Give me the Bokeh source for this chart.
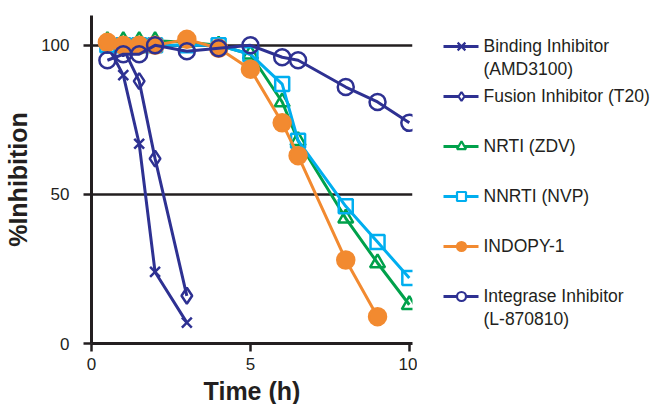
from bokeh.plotting import figure
from bokeh.models import Range1d, FixedTicker
from bokeh.layouts import row, column
from bokeh.embed import file_html
from bokeh.resources import INLINE
from bokeh.core.properties import value

# ---------------- data ----------------
time_early = [0.5, 1, 1.5, 2, 3]
binding = [100, 90, 67, 24, 7]
fusion = [100, 99, 88, 62, 16]

time_full = [0.5, 1, 1.5, 2, 3, 4, 5, 6, 6.5, 8, 9, 10]
nrti = [101.5, 101.5, 101.5, 101.5, 101, 100, 97, 81, 68, 42, 27, 13]
nnrti = [100, 100, 100, 100, 100, 100, 97, 87, 68, 46, 34, 22]
integrase = [95, 97, 97, 100, 98, 99, 100, 96, 95, 86, 81, 74]

time_indopy = [0.5, 1, 1.5, 2, 3, 4, 5, 6, 6.5, 8, 9]
indopy = [101, 100, 100, 100, 102, 99, 92, 74, 63, 28, 9]

x_ticks = [0, 5, 10]
y_ticks = [0, 50, 100]

x_title = "Time (h)"
y_title = "%Inhibition"
labels = ["Binding Inhibitor\n(AMD3100)", "Fusion Inhibitor (T20)", "NRTI (ZDV)",
          "NNRTI (NVP)", "INDOPY-1", "Integrase Inhibitor\n(L-870810)"]

NAVY = "#2E3192"
GREEN = "#00A14B"
CYAN = "#00AEEF"
ORANGE = "#F28A30"
INK = "#231F20"
FONT = "Liberation Sans"

series = [
    dict(x=time_early, y=binding, color=NAVY, marker="x", size=14, fill=None),
    dict(x=time_early, y=fusion, color=NAVY, marker="diamond", size=16, fill=None),
    dict(x=time_full, y=nrti, color=GREEN, marker="triangle", size=15, fill=None),
    dict(x=time_full, y=nnrti, color=CYAN, marker="square", size=14, fill=None),
    dict(x=time_indopy, y=indopy, color=ORANGE, marker="circle", size=17, fill=ORANGE),
    dict(x=time_full, y=integrase, color=NAVY, marker="circle", size=16, fill=None),
]

# ---------------- main plot ----------------
X_MAX, Y_MAX = 10.1, 110
FW, FH = 321, 328
B_LEFT, B_TOP, B_BOT, B_RIGHT = 91, 15, 33, 5
TOTAL_W, TOTAL_H = 653, 404
xr = Range1d(0, X_MAX)
yr = Range1d(0, Y_MAX)
p = figure(frame_width=FW, frame_height=FH, x_range=xr, y_range=yr,
           output_backend="svg", toolbar_location=None,
           min_border_left=B_LEFT, min_border_top=B_TOP, min_border_bottom=B_BOT,
           min_border_right=B_RIGHT)
p.outline_line_color = None
p.background_fill_color = None
p.border_fill_color = None

p.xgrid.visible = False
p.ygrid.ticker = FixedTicker(ticks=[50, 100])
p.ygrid.grid_line_color = INK
p.ygrid.grid_line_width = 2.5

p.xaxis.ticker = FixedTicker(ticks=x_ticks)
p.yaxis.ticker = FixedTicker(ticks=y_ticks)
for ax in (p.xaxis, p.yaxis):
    ax.axis_line_color = INK
    ax.axis_line_width = 3
    ax.major_tick_line_color = INK
    ax.major_tick_line_width = 2.5
    ax.major_tick_out = 8
    ax.major_tick_in = 0
    ax.minor_tick_line_color = None
    ax.major_label_text_font = FONT
    ax.major_label_text_font_size = "17px"
    ax.major_label_text_color = INK
    ax.axis_label_text_font = FONT
    ax.axis_label_text_font_size = "25px"
    ax.axis_label_text_font_style = "bold"
    ax.axis_label_text_color = INK
p.yaxis.axis_label = y_title
p.xaxis.major_label_standoff = 6
p.yaxis.major_label_standoff = 14
p.yaxis.axis_label_standoff = 6

for s in series:
    p.line(s["x"], s["y"], line_color=s["color"], line_width=3)
    p.scatter(s["x"], s["y"], marker=s["marker"], size=s["size"], line_color=s["color"],
              line_width=2.5, fill_color=s["fill"])

# ---------------- legend panel (shares the vertical scale of the plot) ----------------
MAIN_W = B_LEFT + FW + B_RIGHT
W_LEG = TOTAL_W - MAIN_W
leg = figure(frame_width=W_LEG, frame_height=FH, x_range=Range1d(0, W_LEG), y_range=yr,
             output_backend="svg", toolbar_location=None,
             x_axis_location=None, y_axis_location=None,
             min_border_left=0, min_border_right=0,
             min_border_top=B_TOP, min_border_bottom=B_BOT)
leg.outline_line_color = None
leg.grid.visible = False
leg.background_fill_color = None
leg.border_fill_color = None

unit = Y_MAX / FH                  # data units per pixel
first_row_px = 31                  # below the top of the frame
spacing_px = 50
line_x0, line_x1, mark_x, text_x = 26, 61, 44, 66
for i, (s, lab) in enumerate(zip(series, labels)):
    yy = Y_MAX - (first_row_px + i * spacing_px) * unit
    leg.line([line_x0, line_x1], [yy, yy], line_color=s["color"], line_width=3)
    leg.scatter([mark_x], [yy], marker=s["marker"], size=9 if s["marker"] != "x" else 11,
                line_color=s["color"], line_width=2.2,
                fill_color=s["fill"] if s["fill"] else "white")
    leg.text([text_x], [yy + 11 * unit], text=[lab], text_font=value(FONT),
             text_font_size="17.5px", text_color=INK, text_baseline="top",
             text_align="left", text_line_height=1.15)

# ---------------- x-axis title strip (shares the x scale of the plot) ----------------
T_H = TOTAL_H - (B_TOP + FH + B_BOT)
tfig = figure(frame_width=FW, frame_height=T_H, x_range=xr, y_range=Range1d(0, 1),
              output_backend="svg", toolbar_location=None,
              x_axis_location=None, y_axis_location=None,
              min_border_left=B_LEFT, min_border_right=0, min_border_top=0, min_border_bottom=0)
tfig.outline_line_color = None
tfig.grid.visible = False
tfig.background_fill_color = None
tfig.border_fill_color = None
tfig.text([(xr.start + xr.end) / 2], [0.5], text=[x_title], text_font=value(FONT),
          text_font_size="25px", text_font_style="bold", text_color=INK,
          text_align="center", text_baseline="middle")

layout = column(row(p, leg), tfig)
open("out.html", "w").write(file_html(layout, INLINE))
